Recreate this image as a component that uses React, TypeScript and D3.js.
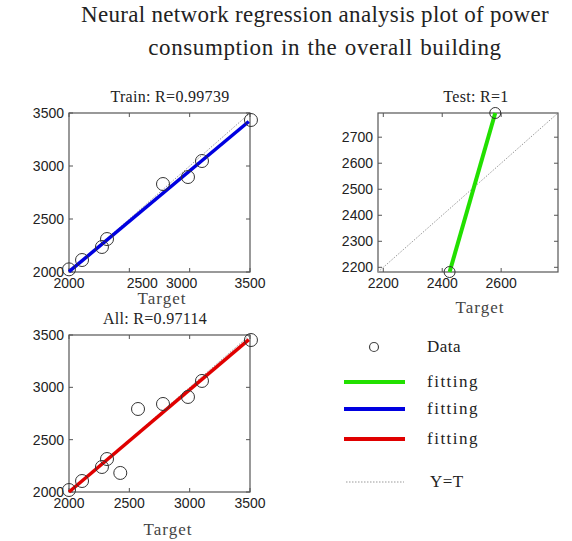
import React, { useEffect, useRef } from "react";
import * as d3 from "d3";

// values
const trainTargets = [2000, 2108, 2273, 2315, 2779, 2986, 3102, 3508];
const trainOutputs = [2025, 2113, 2236, 2311, 2830, 2896, 3047, 3434];
const trainFit = [[2000, 2003], [3490, 3420]];

const testTargets = [2425, 2580];
const testOutputs = [2182, 2793];
const testFit = [[2425, 2182], [2580, 2793]];

const allTargets = [2000, 2108, 2273, 2315, 2425, 2572, 2779, 2986, 3102, 3508];
const allOutputs = [2019, 2105, 2239, 2315, 2182, 2793, 2841, 2908, 3061, 3452];
const allFit = [[2000, 2000], [3490, 3455]];

const bigTicks = [2000, 2500, 3000, 3500];
const testTicks = [2200, 2300, 2400, 2500, 2600, 2700];
const testXTicks = [2200, 2400, 2600];

const legendLabels = ["Data", "fitting", "fitting", "fitting", "Y=T"];

const serif = "'Liberation Serif', 'DejaVu Serif', serif";
const sans = "'Liberation Sans', Arial, sans-serif";

const drawPanel = (svg, p) => {
  const x = d3.scaleLinear().domain(p.domain).range([p.left, p.right]);
  const y = d3.scaleLinear().domain(p.domain).range([p.bottom, p.top]);
  const g = svg.append("g");

  g.append("rect")
    .attr("x", p.left)
    .attr("y", p.top)
    .attr("width", p.right - p.left)
    .attr("height", p.bottom - p.top)
    .attr("fill", "#fff")
    .attr("stroke", "#555")
    .attr("stroke-width", 1.2);

  // ticks inside the box on all sides
  p.xTicks.forEach((t) => {
    g.append("line").attr("x1", x(t)).attr("x2", x(t)).attr("y1", p.bottom).attr("y2", p.bottom - 4).attr("stroke", "#555");
    g.append("line").attr("x1", x(t)).attr("x2", x(t)).attr("y1", p.top).attr("y2", p.top + 4).attr("stroke", "#555");
    g.append("text")
      .attr("x", x(t) + (p.xShift[t] || 0))
      .attr("y", p.bottom + 16)
      .attr("text-anchor", "middle")
      .attr("font-family", sans)
      .attr("font-size", 14)
      .attr("fill", "#222")
      .text(t);
  });
  p.yTicks.forEach((t) => {
    g.append("line").attr("x1", p.left).attr("x2", p.left + 4).attr("y1", y(t)).attr("y2", y(t)).attr("stroke", "#555");
    g.append("line").attr("x1", p.right).attr("x2", p.right - 4).attr("y1", y(t)).attr("y2", y(t)).attr("stroke", "#555");
    g.append("text")
      .attr("x", p.left - 5)
      .attr("y", y(t) + 5)
      .attr("text-anchor", "end")
      .attr("font-family", sans)
      .attr("font-size", 14)
      .attr("fill", "#222")
      .text(t);
  });

  // Y = T
  g.append("line")
    .attr("x1", x(p.domain[0]))
    .attr("y1", y(p.domain[0]))
    .attr("x2", x(p.domain[1]))
    .attr("y2", y(p.domain[1]))
    .attr("stroke", "#999")
    .attr("stroke-width", 1)
    .attr("stroke-dasharray", "1.5,1.5");

  const line = d3.line().x((d) => x(d[0])).y((d) => y(d[1]));
  g.append("path")
    .attr("d", line(p.fit))
    .attr("stroke", p.color)
    .attr("stroke-width", p.lineWidth)
    .attr("fill", "none");

  g.selectAll("circle.pt")
    .data(p.xs)
    .enter()
    .append("circle")
    .attr("cx", (d) => x(d))
    .attr("cy", (d, i) => y(p.ys[i]))
    .attr("r", p.r)
    .attr("fill", "none")
    .attr("stroke", "#333")
    .attr("stroke-width", 1);

  g.append("text")
    .attr("x", p.titleX)
    .attr("y", p.top - 11)
    .attr("text-anchor", "middle")
    .attr("font-family", serif)
    .attr("font-size", 16)
    .attr("letter-spacing", 0.3)
    .attr("fill", "#222")
    .text(p.title);

  g.append("text")
    .attr("x", p.labelX)
    .attr("y", p.labelY)
    .attr("text-anchor", "middle")
    .attr("font-family", serif)
    .attr("font-size", 17)
    .attr("fill", "#444")
    .attr("letter-spacing", 1)
    .text("Target");
};

export default function App() {
  const ref = useRef(null);

  useEffect(() => {
    const svg = d3.select(ref.current);
    svg.selectAll("*").remove();

    svg.append("text")
      .attr("x", 315)
      .attr("y", 22)
      .attr("text-anchor", "middle")
      .attr("font-family", serif)
      .attr("font-size", 23)
      .attr("letter-spacing", 0.3)
      .attr("fill", "#222")
      .text("Neural network regression analysis plot of power");
    svg.append("text")
      .attr("x", 325)
      .attr("y", 55)
      .attr("text-anchor", "middle")
      .attr("font-family", serif)
      .attr("font-size", 23)
      .attr("letter-spacing", 0.6)
      .attr("word-spacing", 1)
      .attr("fill", "#222")
      .text("consumption in the overall building");

    drawPanel(svg, {
      left: 69, right: 250, top: 113, bottom: 272,
      domain: [2000, 3500], xTicks: bigTicks, yTicks: bigTicks,
      xShift: { 2500: 13, 3000: -8 },
      xs: trainTargets, ys: trainOutputs, fit: trainFit,
      color: "#0000e0", lineWidth: 3.5, r: 6.5,
      title: "Train: R=0.99739", titleX: 170, labelX: 162, labelY: 304,
    });
    drawPanel(svg, {
      left: 378, right: 558, top: 113, bottom: 272,
      domain: [2182, 2793], xTicks: testXTicks, yTicks: testTicks,
      xShift: {},
      xs: testTargets, ys: testOutputs, fit: testFit,
      color: "#22e000", lineWidth: 4, r: 5.5,
      title: "Test: R=1", titleX: 476, labelX: 480, labelY: 313,
    });
    drawPanel(svg, {
      left: 69, right: 250, top: 335, bottom: 492,
      domain: [2000, 3500], xTicks: bigTicks, yTicks: bigTicks,
      xShift: {},
      xs: allTargets, ys: allOutputs, fit: allFit,
      color: "#e00000", lineWidth: 3.5, r: 6.5,
      title: "All: R=0.97114", titleX: 155, labelX: 168, labelY: 535,
    });

    // legend
    const rows = [347, 382, 409, 439, 482];
    const lg = svg.append("g");
    lg.append("circle").attr("cx", 374).attr("cy", rows[0]).attr("r", 4.5).attr("fill", "none").attr("stroke", "#444").attr("stroke-width", 1.2);
    const lineColors = ["#22e000", "#0000e0", "#e00000"];
    lineColors.forEach((c, i) => {
      lg.append("line").attr("x1", 344).attr("x2", 405).attr("y1", rows[i + 1]).attr("y2", rows[i + 1]).attr("stroke", c).attr("stroke-width", 4);
    });
    lg.append("line").attr("x1", 346).attr("x2", 404).attr("y1", rows[4]).attr("y2", rows[4]).attr("stroke", "#999").attr("stroke-dasharray", "1.5,1.5");
    legendLabels.forEach((t, i) => {
      lg.append("text")
        .attr("x", i === 4 ? 430 : 427)
        .attr("y", rows[i] + 5)
        .attr("font-family", serif)
        .attr("font-size", 17)
        .attr("letter-spacing", t === "fitting" ? 1.5 : 0.5)
        .attr("fill", "#222")
        .text(t);
    });
  }, []);

  return (
    <svg
      ref={ref}
      width={572}
      height={541}
      style={{ position: "absolute", left: 0, top: 0, background: "#fff" }}
    />
  );
}
